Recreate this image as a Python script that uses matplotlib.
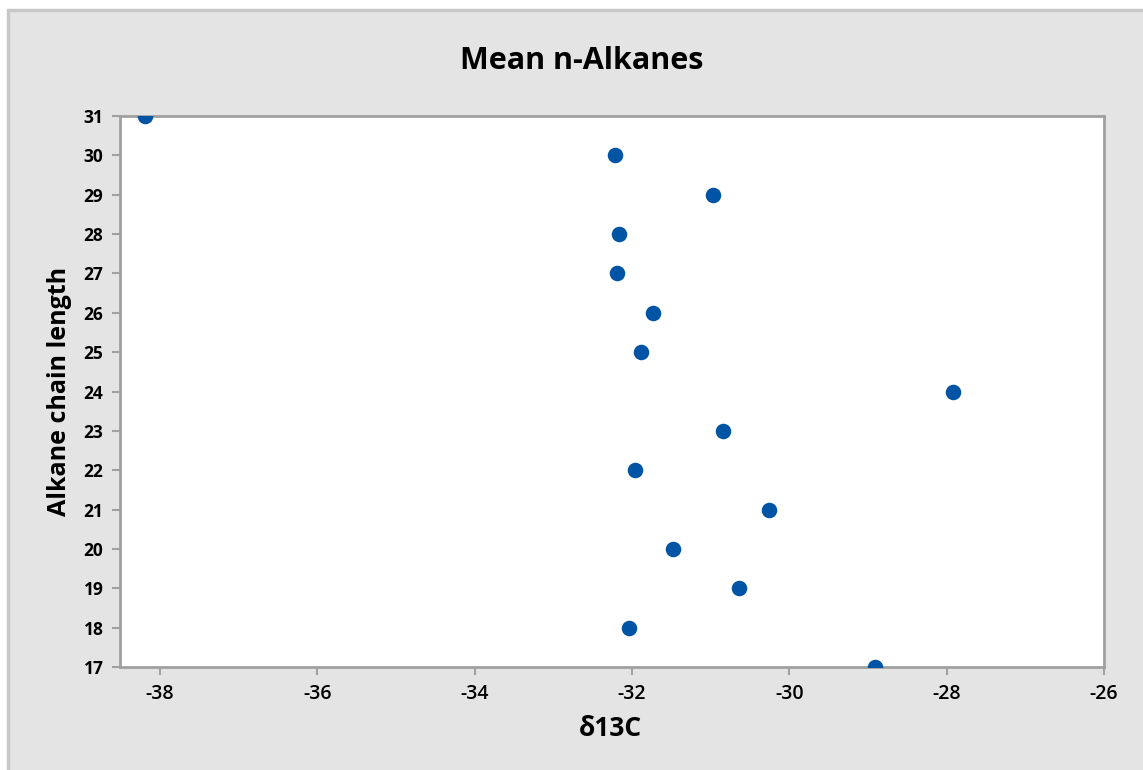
import matplotlib
matplotlib.use("Agg")
import matplotlib.pyplot as plt
from matplotlib.patches import Rectangle

d13c = [-38.19, -32.22, -30.97, -32.17, -32.19, -31.73, -31.89, -27.92,
        -30.84, -31.96, -30.26, -31.48, -30.64, -32.04, -28.91]
chain = [31, 30, 29, 28, 27, 26, 25, 24, 23, 22, 21, 20, 19, 18, 17]
xticks = [-38, -36, -34, -32, -30, -28, -26]
yticks = list(range(17, 32))

plt.rcParams['font.family'] = ['Open Sans', 'DejaVu Sans']

W, H = 1143, 770
fig = plt.figure(figsize=(W / 100, H / 100), dpi=100, facecolor='white')
fig.patches.append(Rectangle((7.5 / W, -0.01), 1.02, (770 - 9.5) / H + 0.01,
                             transform=fig.transFigure, facecolor='#e4e4e4',
                             edgecolor='#c8c8c8', linewidth=2.5, zorder=-10))

ax = fig.add_axes([120 / W, 1 - 667 / H, (1104 - 120) / W, (667 - 116) / H])
ax.set_zorder(5)
ax.set_facecolor('white')
ax.scatter(d13c, chain, s=125, color='#0054a6', zorder=3, linewidths=0)
ax.set_xlim(-38.51, -26)
ax.set_ylim(17, 31)
ax.set_xticks(xticks)
ax.set_yticks(yticks)
ax.set_xticklabels([str(v) for v in xticks])
for s in ax.spines.values():
    s.set_color('#a0a0a0')
    s.set_linewidth(2)
ax.tick_params(direction='out', length=6, width=1.5, color='#a0a0a0',
               labelcolor='black')
ax.tick_params(axis='x', labelsize=14, pad=6)
ax.tick_params(axis='y', labelsize=12.5, pad=6)
for lbl in ax.get_xticklabels():
    lbl.set_fontweight('semibold')
for lbl in ax.get_yticklabels():
    lbl.set_fontweight('bold')

fig.text(582 / W, 1 - 61 / H, 'Mean n-Alkanes', fontsize=22, fontweight='bold',
         ha='center', va='center')
fig.text(610 / W, 1 - 728 / H, 'δ13C', fontsize=19, fontweight='bold',
         ha='center', va='center')
fig.text(60 / W, 1 - 391 / H, 'Alkane chain length', fontsize=18,
         fontweight='bold', ha='center', va='center', rotation=90)

fig.savefig('out.png', dpi=100, facecolor=fig.get_facecolor())
